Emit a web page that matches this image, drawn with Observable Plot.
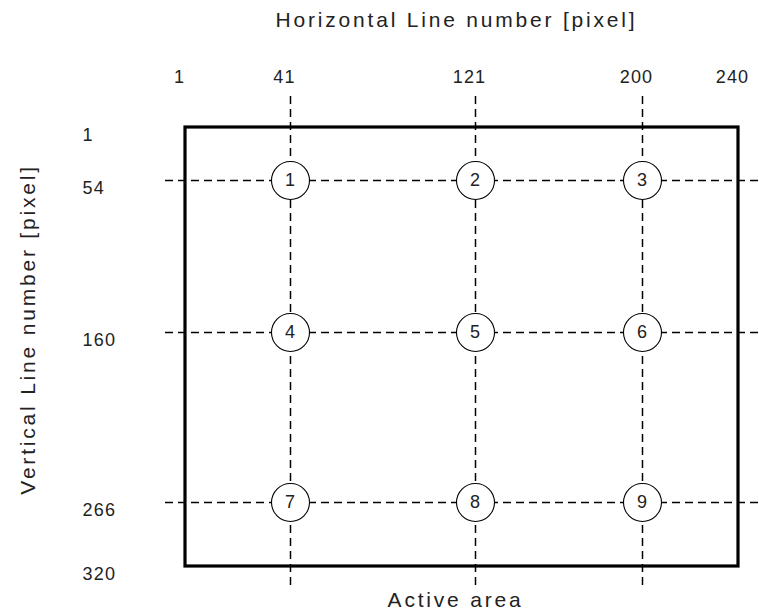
<!DOCTYPE html>
<html><head><meta charset="utf-8">
<script src="https://cdn.jsdelivr.net/npm/d3@7"></script>
<script src="https://cdn.jsdelivr.net/npm/@observablehq/plot@0.6"></script>
<style>body{margin:0;background:#fff;}</style>
</head><body><div id="chart"></div>
<script>
const xTicks = [1, 41, 121, 200, 240];
const yTicks = [1, 54, 160, 266, 320];
const colLines = [41, 121, 200];
const rowLines = [54, 160, 266];
const pointIds = [1, 2, 3, 4, 5, 6, 7, 8, 9];
const xTitle = "Horizontal Line number [pixel]";
const yTitle = "Vertical Line number [pixel]";
const areaLabel = "Active area";

const points = [];
rowLines.forEach((y, i) => colLines.forEach((x, j) => points.push({x, y, id: pointIds[i * colLines.length + j]})));
const area = [{x1: xTicks[0], x2: xTicks[xTicks.length - 1], y1: yTicks[0], y2: yTicks[yTicks.length - 1]}];

const chart = Plot.plot({
  width: 759, height: 614,
  marginTop: 96, marginBottom: 24, marginLeft: 165, marginRight: 0,
  style: {fontFamily: "'Liberation Sans', Arial, sans-serif", color: "#222", background: "#fff", letterSpacing: "1.2px"},
  x: {type: "linear", domain: xTicks, range: [185, 290, 475, 642, 738]},
  y: {type: "linear", domain: yTicks, range: [127, 180, 332, 502, 566]},
  marks: [
    Plot.ruleX(colLines, {stroke: "#000", strokeWidth: 1.5, strokeDasharray: "8,5"}),
    Plot.ruleY(rowLines, {stroke: "#000", strokeWidth: 1.5, strokeDasharray: "8,5"}),
    Plot.rect(area, {x1: "x1", x2: "x2", y1: "y1", y2: "y2", fill: "none", stroke: "#000", strokeWidth: 3.2}),
    Plot.dot(points, {x: "x", y: "y", r: 19, fill: "white", stroke: "#000", strokeWidth: 1.1}),
    Plot.text(points, {x: "x", y: "y", text: "id", fontSize: 18, fill: "#222"}),
    Plot.axisX(xTicks, {anchor: "top", tickSize: 0, tickPadding: 14, dx: -6, fontSize: 18, label: null}),
    Plot.axisY(yTicks, {anchor: "left", tickSize: 0, tickPadding: 83, textAnchor: "start", dy: 8, fontSize: 18, label: null}),
    Plot.text([xTitle], {text: d => d, frameAnchor: "top", lineAnchor: "middle", textAnchor: "middle", dx: -6, dy: -76, fontSize: 21, fill: "#222"}),
    Plot.text([areaLabel], {text: d => d, frameAnchor: "bottom", lineAnchor: "middle", textAnchor: "middle", dx: -7, dy: 10, fontSize: 21, fill: "#222"}),
    Plot.text([yTitle], {text: d => d, frameAnchor: "left", lineAnchor: "middle", textAnchor: "middle", rotate: -90, dx: -137, dy: -14, fontSize: 21, fill: "#222"})
  ]
});
const titles = new Set([xTitle, yTitle, areaLabel]);
chart.querySelectorAll("text").forEach(t => { if (titles.has(t.textContent)) t.style.letterSpacing = "2.8px"; });
document.getElementById("chart").appendChild(chart);
</script>
</body></html>
